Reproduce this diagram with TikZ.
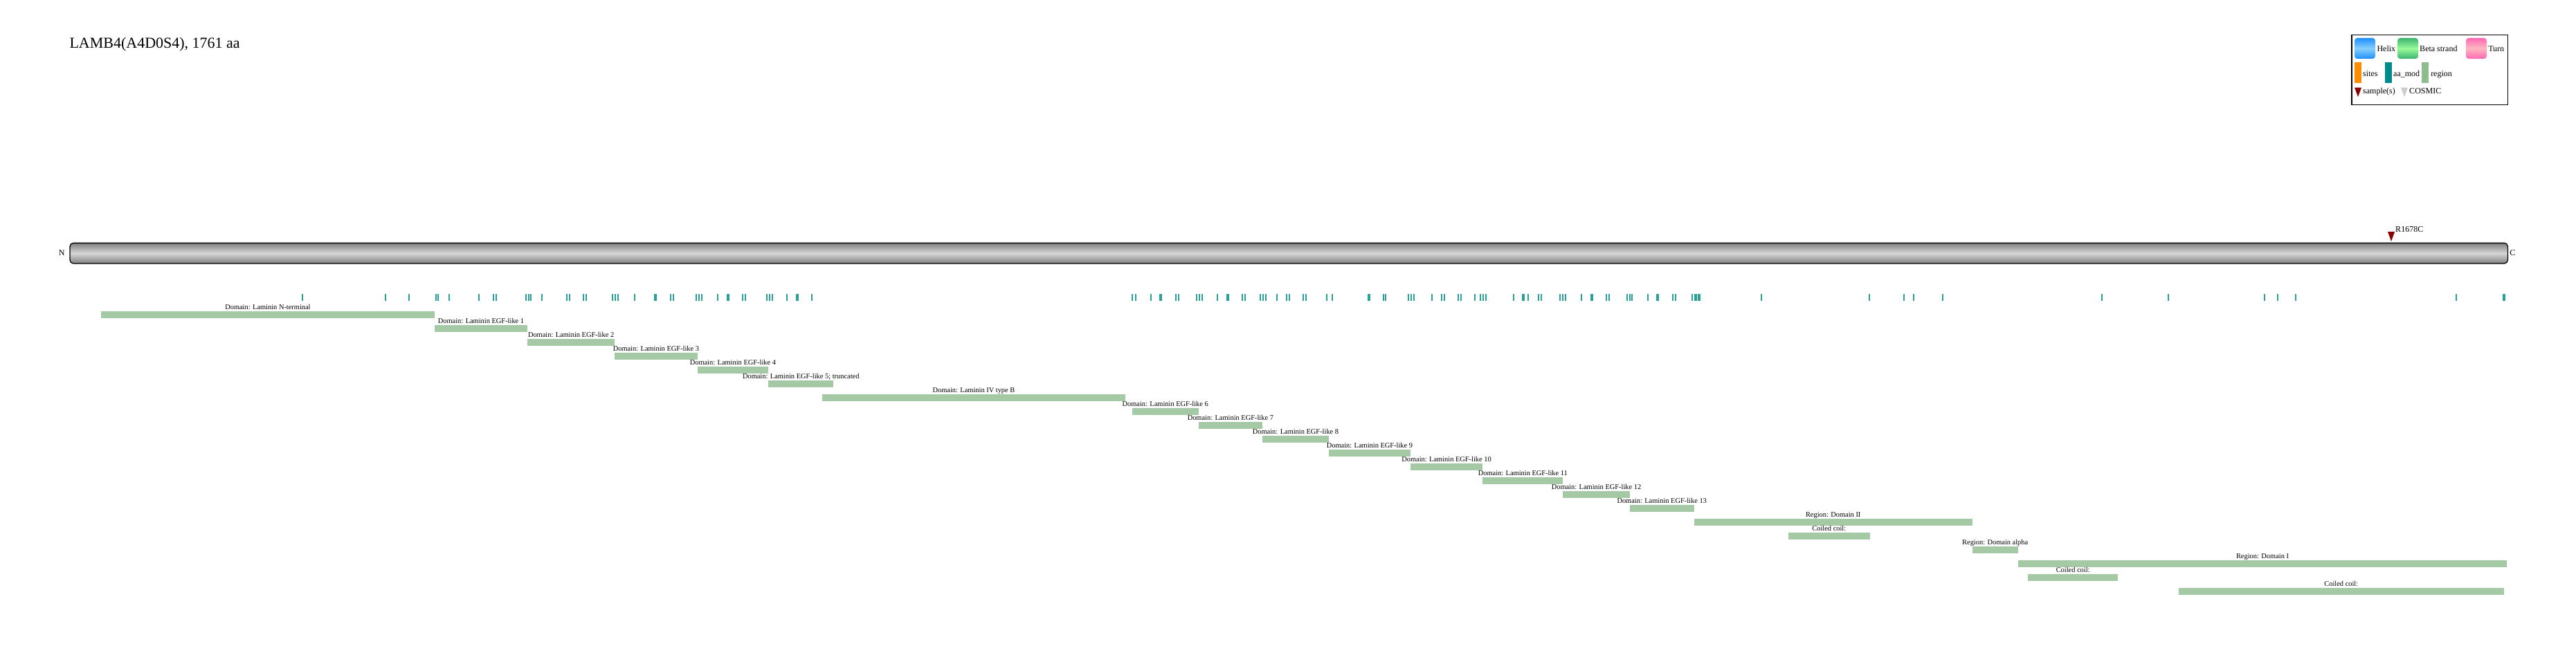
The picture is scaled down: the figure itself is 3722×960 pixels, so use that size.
\documentclass[tikz,border=0pt]{standalone}
\usepackage{fontspec}
\setmainfont{Liberation Serif}
\definecolor{tickc}{RGB}{41,160,152}
\definecolor{domc}{RGB}{165,201,165}
\definecolor{regc}{RGB}{143,188,143}
\definecolor{aamodc}{RGB}{0,139,139}
\definecolor{sitec}{RGB}{255,140,0}
\definecolor{mutc}{RGB}{139,0,0}
\definecolor{cosc}{RGB}{204,204,204}
\definecolor{bargray}{RGB}{128,128,128}
\definecolor{barlight}{RGB}{214,214,214}
\definecolor{dodger}{RGB}{30,144,255}
\definecolor{skyl}{RGB}{135,206,250}
\definecolor{mseag}{RGB}{60,179,113}
\definecolor{paleg}{RGB}{152,251,152}
\definecolor{hpink}{RGB}{255,105,180}
\definecolor{lpink}{RGB}{255,182,193}
\tikzset{
  dombar/.style={fill=domc, inner sep=0pt, minimum height=10pt, outer sep=0pt},
  domlabel/.style={anchor=base, inner sep=0pt, font=\fontsize{10.4}{12}\selectfont},
  legtext/.style={anchor=base west, inner sep=0pt, font=\fontsize{12}{14}\selectfont},
  icon/.style={inner sep=0pt, minimum size=30pt, rounded corners=4pt},
  legbar/.style={inner sep=0pt, minimum width=10pt, minimum height=30pt},
  protbar/.style={draw=black, line width=1.3pt, rounded corners=5pt, inner sep=0pt,
    top color=bargray, bottom color=bargray, middle color=barlight},
}
\newcommand\dombox[5]{%
  \node[dombar, minimum width={#3pt-#2pt}, anchor=north west] (#1) at (#2,#4) {};
  \node[domlabel] (#1-lab) at ([yshift=2.5pt]#1.north) {#5};}
\begin{document}
\begin{tikzpicture}[x=1pt,y=-1pt]
\useasboundingbox (0,0) rectangle (3722,960);
% title
\node[anchor=base west, inner sep=0pt, font=\fontsize{22}{26}\selectfont] (title) at (100.3,70) {LAMB4(A4D0S4), 1761 aa};
% protein bar
\node[protbar, minimum width=3522.3pt, minimum height=29.6pt, anchor=north west] (prot) at (100.4,350.7) {};
\node[anchor=base, inner sep=0pt, font=\fontsize{12}{14}\selectfont] (nlab) at (89.3,369) {N};
\node[anchor=base west, inner sep=0pt, font=\fontsize{12}{14}\selectfont] (clab) at (3626,369) {C};
% mutation
\coordinate (mut) at (3455,349);
\fill[mutc] (3450,335) -- (3460,335) -- (mut) -- cycle;
\node[anchor=base west, inner sep=0pt, font=\fontsize{12}{14}\selectfont] (mutlab) at (3461,335) {R1678C};
% aa_mod ticks
\foreach \t in {436.7,556.9,590.6,629.6,633.4,648.7,691.6,713.0,716.8,759.7,763.5,767.3,782.6,819.4,823.2,843.1,846.9,885.2,889.0,892.8,916.6,969.4,973.2,1006.1,1009.9,1013.7,1036.7,1073.4,1077.3,1107.9,1111.7,1115.5,1137.0,1172.9,
1636.4,1640.8,1662.5,1698.9,1702.7,1728.8,1732.7,1736.5,1758.8,1795.2,1799.0,1821.3,1825.1,1829.0,1844.9,1858.9,1862.8,1883.2,1887.0,1917.0,1924.6,1998.6,2002.4,2035.0,2038.8,2042.6,2068.8,2082.8,2086.6,2107.0,2110.8,2130.6,2138.9,2142.7,2146.6,2186.7,2208.4,2223.1,2226.9,2254.3,2258.2,2262.0,2284.9,2321.3,2324.5,2350.6,2354.5,2358.3,2380.6,2417.0,2420.8,2445.0,2544.5,2700.9,2750.9,2765.2,2807.0,3036.6,3132.6,3272.3,3290.7,3316.7,3549.0}
  \fill[tickc] (\t-1,425) rectangle (\t+1,435);
\foreach \t in {947.2,1052.0,1151.5,1677.2,1773.5,1977.6,2201.4,2299.6,2395.3,2449.5,2455.2,3617.7}
  \fill[tickc] (\t-2,425) rectangle (\t+2,435);
% domains
\dombox{nterm}{145.9}{628.0}{450}{Domain: Laminin N-terminal}
\dombox{egfa}{628.0}{762.0}{470}{Domain: Laminin EGF-like 1}
\dombox{egfb}{762.0}{888.2}{490}{Domain: Laminin EGF-like 2}
\dombox{egfc}{888.2}{1007.6}{510}{Domain: Laminin EGF-like 3}
\dombox{egfd}{1007.6}{1110.2}{530}{Domain: Laminin EGF-like 4}
\dombox{egfe}{1110.2}{1204.3}{550}{Domain: Laminin EGF-like 5; truncated}
\dombox{ivb}{1188.2}{1625.7}{570}{Domain: Laminin IV type B}
\dombox{egff}{1635.6}{1731.8}{590}{Domain: Laminin EGF-like 6}
\dombox{egfg}{1731.8}{1823.9}{610}{Domain: Laminin EGF-like 7}
\dombox{egfh}{1823.9}{1920.1}{630}{Domain: Laminin EGF-like 8}
\dombox{egfi}{1920.1}{2037.8}{650}{Domain: Laminin EGF-like 9}
\dombox{egfj}{2037.8}{2142.3}{670}{Domain: Laminin EGF-like 10}
\dombox{egfk}{2142.3}{2258.4}{690}{Domain: Laminin EGF-like 11}
\dombox{egfl}{2258.4}{2354.6}{710}{Domain: Laminin EGF-like 12}
\dombox{egfm}{2354.6}{2447.8}{730}{Domain: Laminin EGF-like 13}
\dombox{domii}{2447.8}{2849.6}{750}{Region: Domain II}
\dombox{cca}{2583.9}{2701.7}{770}{Coiled coil:}
\dombox{alpha}{2849.6}{2915.8}{790}{Region: Domain alpha}
\dombox{domi}{2915.8}{3622.2}{810}{Region: Domain I}
\dombox{ccb}{2930.3}{3060.0}{830}{Coiled coil:}
\dombox{ccc}{3147.9}{3617.7}{850}{Coiled coil:}
% legend
\node[draw=black, line width=1.5pt, inner sep=0pt, minimum width=225.4pt, minimum height=100.7pt, anchor=north west] (legend) at (3397.3,50) {};
\node[icon, top color=dodger, bottom color=dodger, middle color=skyl] (ihelix) at (3417,70) {};
\node[legtext] (thelix) at (3434.3,75) {Helix};
\node[icon, top color=mseag, bottom color=mseag, middle color=paleg] (ibeta) at (3479,70) {};
\node[legtext] (tbeta) at (3496,75) {Beta strand};
\node[icon, top color=hpink, bottom color=hpink, middle color=lpink] (iturn) at (3578,70) {};
\node[legtext] (tturn) at (3595,75) {Turn};
\node[legbar, fill=sitec] (isites) at (3407,105) {};
\node[legtext] (tsites) at (3414,110.5) {sites};
\node[legbar, fill=aamodc] (iaamod) at (3451,105) {};
\node[legtext] (taamod) at (3458,110.5) {aa\_mod};
\node[legbar, fill=regc] (iregion) at (3504,105) {};
\node[legtext] (tregion) at (3512,110.5) {region};
\fill[mutc] (3402,126.7) -- (3412,126.7) -- (3407,140) -- cycle;
\node[legtext] (tsample) at (3414,136) {sample(s)};
\fill[cosc] (3469,126.7) -- (3479,126.7) -- (3474,140) -- cycle;
\node[legtext] (tcosmic) at (3481,136) {COSMIC};
\end{tikzpicture}
\end{document}
